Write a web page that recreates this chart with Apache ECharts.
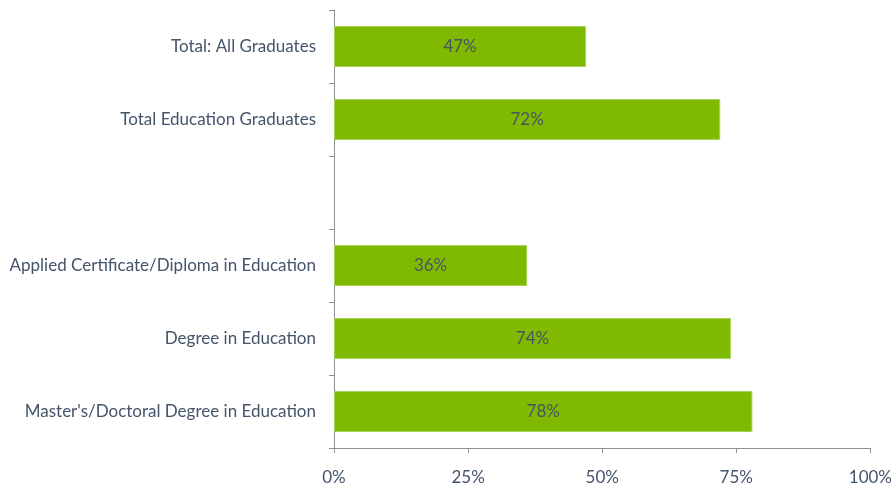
<!DOCTYPE html>
<html>
<head>
<meta charset="utf-8">
<script src="https://cdn.jsdelivr.net/npm/echarts@6/dist/echarts.min.js"></script>
<style>html,body{margin:0;padding:0;background:#fff;}#c{width:895px;height:486px;}</style>
</head>
<body>
<div id="c"></div>
<script>
const categories = [
  "Total: All Graduates",
  "Total Education Graduates",
  "",
  "Applied Certificate/Diploma in Education",
  "Degree in Education",
  "Master's/Doctoral Degree in Education"
];
const values = [47, 72, null, 36, 74, 78];
const xTicks = [0, 25, 50, 75, 100];

const chart = echarts.init(document.getElementById('c'));
const axisColor = '#8c9196';
const textColor = '#44546a';
const fontFam = 'Lato, "Open Sans", sans-serif';
chart.setOption({
  animation: false,
  grid: { left: 334, right: 22, top: 10, bottom: 36, containLabel: false },
  xAxis: {
    type: 'value', min: xTicks[0], max: xTicks[xTicks.length - 1], interval: 25,
    axisLine: { show: true, lineStyle: { color: axisColor, width: 1 } },
    axisTick: { show: true, length: 5, lineStyle: { color: axisColor } },
    splitLine: { show: false },
    axisLabel: { formatter: v => v + '%', color: textColor, fontSize: 17, fontFamily: fontFam, margin: 21 }
  },
  yAxis: {
    type: 'category', data: categories, inverse: true,
    axisLine: { show: true, lineStyle: { color: axisColor, width: 1 } },
    axisTick: { show: true, length: 5, lineStyle: { color: axisColor } },
    axisLabel: { color: textColor, fontSize: 17, fontFamily: fontFam, margin: 18 }
  },
  series: [{
    type: 'bar', data: values, barWidth: '56%',
    itemStyle: { color: '#7fba00', borderColor: '#a5d35a', borderWidth: 1 },
    label: { show: true, position: 'inside', formatter: p => p.value + '%', color: '#4a5560', fontSize: 17, fontFamily: fontFam }
  }]
});
</script>
</body>
</html>
